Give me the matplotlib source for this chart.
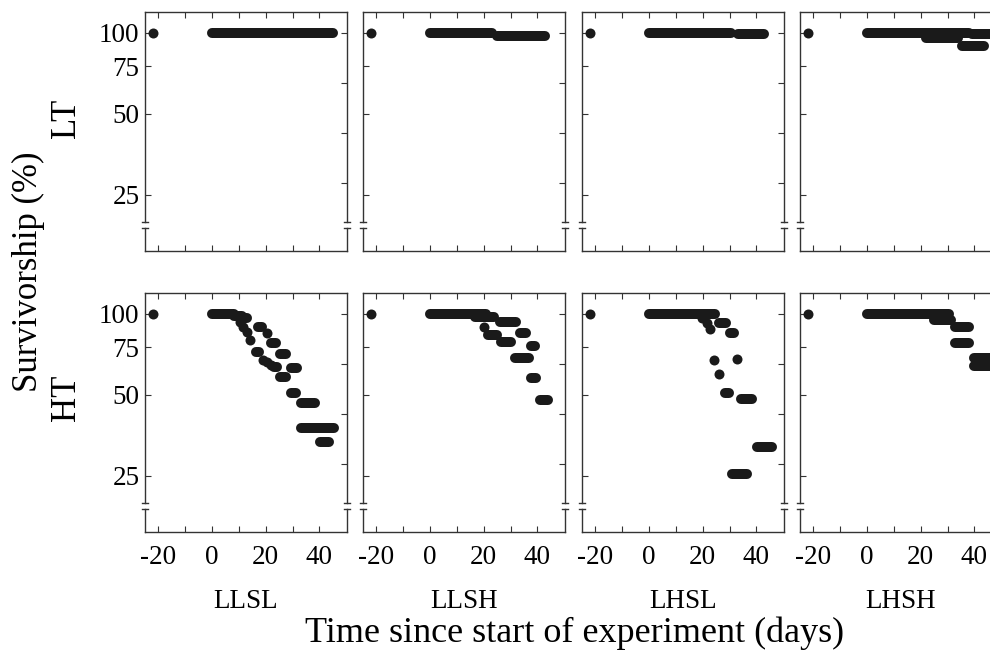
import matplotlib.pyplot as plt
from matplotlib.ticker import NullLocator

plt.rcParams['font.family'] = ['Liberation Serif', 'DejaVu Serif']

treatments = ['LLSL', 'LLSH', 'LHSL', 'LHSH']
temps = ['LT', 'HT']

# reading taken before the start of the experiment
pre_day = -22
pre_surv = 100

# runs of survivorship: (first day, last day, survivorship %)
lt_llsl = [(0, 45, 100)]
lt_llsh = [(0, 23, 100), (25, 42.7, 97.7)]
lt_lhsl = [(0, 30.5, 100), (33, 42.8, 98.8)]
lt_lhsh = [(0, 38, 100), (22, 34, 96), (39, 47, 99), (35.3, 43.5, 89.4)]

ht_llsl = [(0, 8, 100), (8, 11, 98), (11, 13, 96.4),
           (10.4, 10.4, 93.6), (11.7, 11.7, 89.6), (12.9, 12.9, 85.9),
           (14.2, 14.2, 80.0), (16.5, 17.5, 72.3), (19, 19, 67.4),
           (20.5, 20.5, 66), (22, 22, 64.5), (23, 24.1, 63.6),
           (25.2, 27.4, 58.4), (17.1, 18.7, 89.6), (20.4, 20.4, 85.2),
           (22.1, 23.7, 78.1), (25.2, 27.7, 70.9), (29.3, 31.8, 62.7),
           (29.3, 31.2, 50.6), (33.3, 38.4, 46.4), (33.3, 45.5, 37.5),
           (40.1, 43.6, 33.4)]
ht_llsh = [(0, 21, 100), (16.6, 23.8, 97.2), (25.9, 31.9, 93.6),
           (20.2, 20.2, 89.1), (21.6, 25.1, 83.5), (33.4, 35.9, 84.7),
           (26.6, 30.0, 78.4), (37.5, 39.0, 75.9), (31.5, 36.9, 68.4),
           (37.8, 39.4, 57.5), (40.9, 43.8, 47.8)]
ht_lhsl = [(0, 24.6, 100), (19.6, 19.6, 96.4), (21.5, 21.5, 92.8),
           (22.8, 22.8, 87.6), (25.9, 28.5, 92.8), (30.0, 31.6, 84.7),
           (24.3, 24.3, 67.4), (32.8, 32.8, 67.9), (26.2, 26.2, 59.7),
           (28.2, 29.8, 50.6), (34.1, 38.5, 48.1), (40.4, 45.7, 31.8),
           (31.0, 36.6, 25.3)]
ht_lhsh = [(0, 30.5, 100), (24.9, 31.2, 95), (32.7, 38.0, 89.2),
           (32.7, 38.0, 77.7), (39.7, 46, 68.4), (39.7, 46, 64)]

runs = [[lt_llsl, lt_llsh, lt_lhsl, lt_lhsh],
        [ht_llsl, ht_llsh, ht_lhsl, ht_lhsh]]

y_ticks = [25, 50, 75, 100]
right_ticks = [27.7, 42.5, 65.2, 100]
x_major = [-20, 0, 20, 40]
x_minor = [-10, 10, 30]

ink = '#1a1a1a'
dot = 7.2
W, H = 990, 653
col_left = [145, 363, 582, 800]
row_top = [12, 293]
pw, ph = 202, 239
gap_lo, gap_hi = 0.096, 0.121

fig = plt.figure(figsize=(W / 100, H / 100), dpi=100)

for r in range(2):
    for c in range(4):
        ax = fig.add_axes([col_left[c] / W, 1 - (row_top[r] + ph) / H, pw / W, ph / H])
        ax.set_yscale('log')
        ax.set_xlim(-25, 50.3)
        ax.set_ylim(15.4, 119.7)

        ax.plot([pre_day], [pre_surv], 'o', ms=dot, color=ink, mec='none')
        for s, e, v in runs[r][c]:
            if s == e:
                ax.plot([s], [v], 'o', ms=dot, color=ink, mec='none')
            else:
                ax.plot([s, e], [v, v], lw=dot, color=ink, solid_capstyle='round')

        ax.set_yticks(y_ticks)
        ax.yaxis.set_minor_locator(NullLocator())
        ax.set_yticklabels([str(t) for t in y_ticks] if c == 0 else [])
        ax.set_xticks(x_major)
        ax.set_xticks(x_minor, minor=True)
        ax.set_xticklabels([str(t) for t in x_major] if r == 1 else [])
        ax.tick_params(which='both', direction='in', top=True, right=False,
                       length=4, width=0.8, color='#333333', labelsize=19.5)
        ax.tick_params(axis='x', pad=9.5)
        ax.tick_params(axis='y', pad=4)

        ax2 = ax.twinx()
        ax2.set_yscale('log')
        ax2.set_ylim(15.4, 119.7)
        ax2.set_yticks(right_ticks)
        ax2.yaxis.set_minor_locator(NullLocator())
        ax2.set_yticklabels([])
        ax2.tick_params(direction='in', length=4, width=0.8, color='#333333')
        for sp in ax2.spines.values():
            sp.set_visible(False)

        # side spines with an axis break near the bottom
        for sp in ('left', 'right'):
            ax.spines[sp].set_visible(False)
        for sp in ('top', 'bottom'):
            ax.spines[sp].set_color('#333333')
            ax.spines[sp].set_linewidth(1.0)
        d = 0.015
        for xx in (0, 1):
            kw = dict(transform=ax.transAxes, clip_on=False, color='#333333', lw=1.0)
            ax.plot([xx, xx], [0, gap_lo], **kw)
            ax.plot([xx, xx], [gap_hi, 1], **kw)
            ax.plot([xx - d, xx + d], [gap_lo, gap_lo], **kw)
            ax.plot([xx - d, xx + d], [gap_hi, gap_hi], **kw)

for c, name in enumerate(treatments):
    fig.text((col_left[c] + pw / 2) / W, 1 - 601 / H, name,
             ha='center', va='center', fontsize=19.5)

fig.text(575 / W, 1 - 633 / H, 'Time since start of experiment (days)',
         ha='center', va='center', fontsize=26)
fig.text(28 / W, 1 - 272 / H, 'Survivorship (%)', rotation=90,
         ha='center', va='center', fontsize=25)
fig.text(66 / W, 1 - 118 / H, temps[0], rotation=90,
         ha='center', va='center', fontsize=25)
fig.text(66 / W, 1 - 398 / H, temps[1], rotation=90,
         ha='center', va='center', fontsize=25)

fig.savefig('out.png', dpi=100)
